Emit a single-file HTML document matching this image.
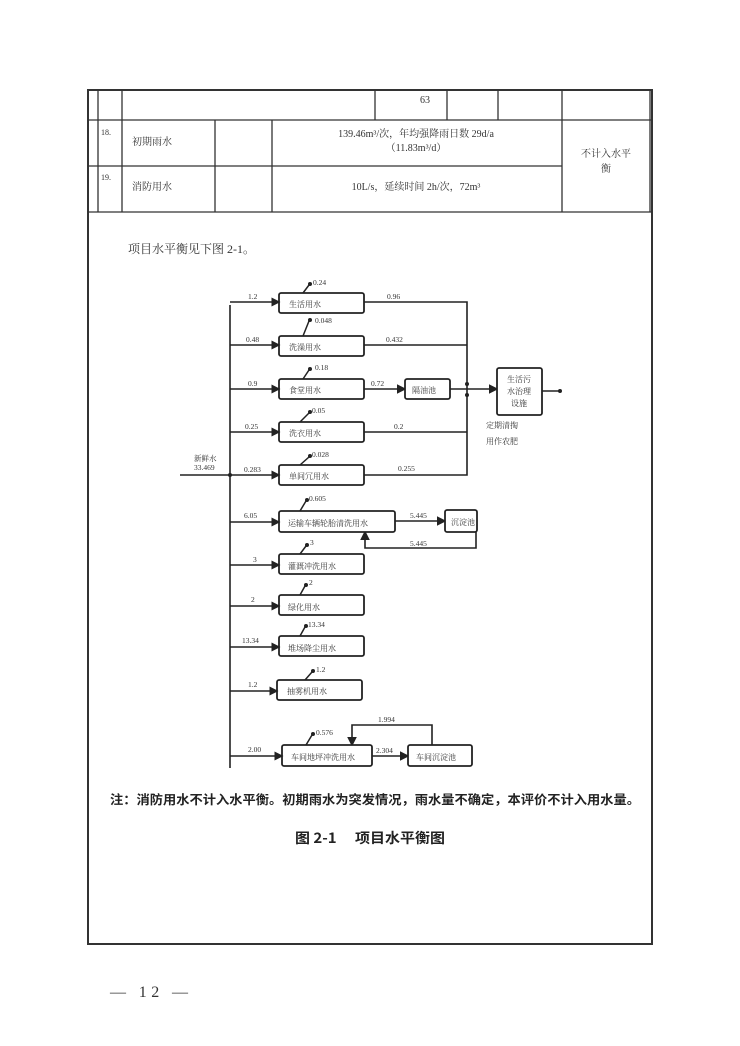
<!DOCTYPE html>
<html><head><meta charset="utf-8"><style>
html,body{margin:0;padding:0;background:#fff;}
svg{display:block;font-family:"Liberation Serif","Noto Serif CJK SC","Noto Sans CJK SC",serif;}
</style></head><body>
<svg width="740" height="1046" viewBox="0 0 740 1046" xmlns="http://www.w3.org/2000/svg">
<defs><marker id="a" markerWidth="6" markerHeight="6" refX="5" refY="3" orient="auto"><path d="M0,0 L6,3 L0,6 z" fill="#222"/></marker></defs>
<g stroke="#333" fill="none">
<rect x="88" y="90" width="564" height="854" stroke-width="2"/>
<g stroke-width="1.3">
<line x1="88" y1="120" x2="652" y2="120"/><line x1="88" y1="166" x2="562" y2="166"/><line x1="88" y1="212" x2="652" y2="212"/>
<line x1="98" y1="90" x2="98" y2="212"/><line x1="122" y1="90" x2="122" y2="212"/>
<line x1="215" y1="120" x2="215" y2="212"/><line x1="272" y1="120" x2="272" y2="212"/>
<line x1="375" y1="90" x2="375" y2="120"/><line x1="447" y1="90" x2="447" y2="120"/><line x1="498" y1="90" x2="498" y2="120"/>
<line x1="562" y1="90" x2="562" y2="212"/><line x1="650" y1="90" x2="650" y2="212"/>
</g></g>
<g font-size="10" fill="#333">
<text x="420" y="103">63</text>
<text x="101" y="135" font-size="8">18.</text><text x="101" y="180" font-size="8">19.</text>
<text x="132" y="145">初期雨水</text><text x="132" y="190">消防用水</text>
<text x="416" y="137" text-anchor="middle">139.46m³/次，年均强降雨日数 29d/a</text>
<text x="416" y="151" text-anchor="middle">（11.83m³/d）</text>
<text x="416" y="190" text-anchor="middle">10L/s，延续时间 2h/次，72m³</text>
<text x="606" y="157" text-anchor="middle">不计入水平</text><text x="606" y="172" text-anchor="middle">衡</text>
<text x="128" y="253" font-size="12">项目水平衡见下图 2-1。</text>
</g>
<g stroke="#222" stroke-width="1.6" fill="none">
<line x1="230" y1="305" x2="230" y2="768"/>
<line x1="180" y1="475" x2="230" y2="475"/>
<polyline points="364,302 467,302 467,475 364,475"/>
<line x1="364" y1="345" x2="467" y2="345"/><line x1="364" y1="432" x2="467" y2="432"/>
<line x1="364" y1="389" x2="405" y2="389" marker-end="url(#a)"/>
<line x1="450" y1="389" x2="497" y2="389" marker-end="url(#a)"/>
<line x1="542" y1="391" x2="560" y2="391"/>
<line x1="395" y1="521" x2="445" y2="521" marker-end="url(#a)"/>
<polyline points="476,532 476,548 365,548 365,532" marker-end="url(#a)"/>
<line x1="372" y1="756" x2="408" y2="756" marker-end="url(#a)"/>
<polyline points="432,745 432,725 352,725 352,745" marker-end="url(#a)"/>
</g>
<circle cx="560" cy="391" r="2" fill="#222"/><circle cx="467" cy="384" r="2" fill="#222"/><circle cx="467" cy="395" r="2" fill="#222"/>
<g stroke="#222" stroke-width="1.8" fill="#fff">
<rect x="279" y="293" width="85" height="20" rx="2"/><rect x="279" y="336" width="85" height="20" rx="2"/>
<rect x="279" y="379" width="85" height="20" rx="2"/><rect x="279" y="422" width="85" height="20" rx="2"/>
<rect x="279" y="465" width="85" height="20" rx="2"/><rect x="279" y="511" width="116" height="21" rx="2"/>
<rect x="279" y="554" width="85" height="20" rx="2"/><rect x="279" y="595" width="85" height="20" rx="2"/>
<rect x="279" y="636" width="85" height="20" rx="2"/><rect x="277" y="680" width="85" height="20" rx="2"/>
<rect x="282" y="745" width="90" height="21" rx="2"/>
<rect x="405" y="379" width="45" height="20" rx="2"/><rect x="497" y="368" width="45" height="47" rx="2"/>
<rect x="445" y="510" width="32" height="22" rx="2"/>
<rect x="408" y="745" width="64" height="21" rx="2"/>
</g>
<g stroke="#222" stroke-width="1.5">
<line x1="230" y1="302" x2="279" y2="302" marker-end="url(#a)"/><line x1="230" y1="345" x2="279" y2="345" marker-end="url(#a)"/>
<line x1="230" y1="389" x2="279" y2="389" marker-end="url(#a)"/><line x1="230" y1="432" x2="279" y2="432" marker-end="url(#a)"/>
<line x1="230" y1="475" x2="279" y2="475" marker-end="url(#a)"/><line x1="230" y1="522" x2="279" y2="522" marker-end="url(#a)"/>
<line x1="230" y1="565" x2="279" y2="565" marker-end="url(#a)"/><line x1="230" y1="606" x2="279" y2="606" marker-end="url(#a)"/>
<line x1="230" y1="647" x2="279" y2="647" marker-end="url(#a)"/><line x1="230" y1="691" x2="277" y2="691" marker-end="url(#a)"/>
<line x1="230" y1="756" x2="282" y2="756" marker-end="url(#a)"/>
<line x1="303" y1="293" x2="309" y2="285"/><line x1="303" y1="336" x2="309" y2="321"/>
<line x1="303" y1="379" x2="309" y2="370"/><line x1="300" y1="422" x2="309" y2="413"/>
<line x1="300" y1="465" x2="309" y2="457"/><line x1="300" y1="511" x2="306" y2="501"/>
<line x1="300" y1="554" x2="306" y2="546"/><line x1="300" y1="595" x2="305" y2="586"/>
<line x1="300" y1="636" x2="305" y2="627"/><line x1="305" y1="680" x2="312" y2="672"/>
<line x1="306" y1="745" x2="312" y2="735"/>
</g>
<g fill="#222">
<circle cx="310" cy="284" r="2"/><circle cx="310" cy="320" r="2"/><circle cx="310" cy="369" r="2"/><circle cx="310" cy="412" r="2"/>
<circle cx="310" cy="456" r="2"/><circle cx="307" cy="500" r="2"/><circle cx="307" cy="545" r="2"/><circle cx="306" cy="585" r="2"/>
<circle cx="306" cy="626" r="2"/><circle cx="313" cy="671" r="2"/><circle cx="313" cy="734" r="2"/><circle cx="230" cy="475" r="2"/>
</g>
<g font-size="7.5" fill="#333">
<text x="313" y="285">0.24</text><text x="315" y="323">0.048</text><text x="315" y="370">0.18</text><text x="312" y="413">0.05</text>
<text x="312" y="457">0.028</text><text x="309" y="501">0.605</text><text x="310" y="545">3</text><text x="309" y="585">2</text>
<text x="308" y="627">13.34</text><text x="316" y="672">1.2</text><text x="316" y="735">0.576</text>
<text x="248" y="299">1.2</text><text x="246" y="342">0.48</text><text x="248" y="386">0.9</text><text x="245" y="429">0.25</text>
<text x="244" y="472">0.283</text><text x="244" y="518">6.05</text><text x="253" y="562">3</text><text x="251" y="602">2</text>
<text x="242" y="643">13.34</text><text x="248" y="687">1.2</text><text x="248" y="752">2.00</text>
<text x="387" y="299">0.96</text><text x="386" y="342">0.432</text><text x="371" y="386">0.72</text><text x="394" y="429">0.2</text>
<text x="398" y="471">0.255</text><text x="410" y="518">5.445</text><text x="410" y="546">5.445</text>
<text x="378" y="722">1.994</text><text x="376" y="753">2.304</text>
<text x="194" y="461">新鲜水</text><text x="194" y="470">33.469</text>
</g>
<g font-size="8" fill="#333">
<text x="289" y="307">生活用水</text><text x="289" y="350">洗澡用水</text><text x="289" y="393">食堂用水</text><text x="289" y="436">洗衣用水</text>
<text x="289" y="479">单间冗用水</text><text x="288" y="526">运输车辆轮胎清洗用水</text><text x="288" y="569">灌溉冲洗用水</text>
<text x="288" y="610">绿化用水</text><text x="288" y="651">堆场降尘用水</text><text x="287" y="694">抽雾机用水</text>
<text x="291" y="760">车间地坪冲洗用水</text><text x="416" y="760">车间沉淀池</text><text x="412" y="393">隔油池</text>
<text x="451" y="525">沉淀池</text>
<text x="519" y="382" text-anchor="middle">生活污</text><text x="519" y="394" text-anchor="middle">水治理</text><text x="519" y="406" text-anchor="middle">设施</text>
<text x="486" y="428">定期清掏</text><text x="486" y="444">用作农肥</text>
</g>
<text x="110" y="804" font-size="12.5" font-weight="bold" fill="#222" textLength="530" lengthAdjust="spacingAndGlyphs" font-family="'Noto Sans CJK SC',sans-serif">注：消防用水不计入水平衡。初期雨水为突发情况，雨水量不确定，本评价不计入用水量。</text>
<text x="295" y="843" font-size="14" font-weight="bold" fill="#222" textLength="150" lengthAdjust="spacingAndGlyphs" font-family="'Noto Sans CJK SC',sans-serif">图 2-1　 项目水平衡图</text>
<text x="110" y="997" font-size="16" fill="#333" textLength="78" lengthAdjust="spacing">— 12 —</text>
</svg>
</body></html>
